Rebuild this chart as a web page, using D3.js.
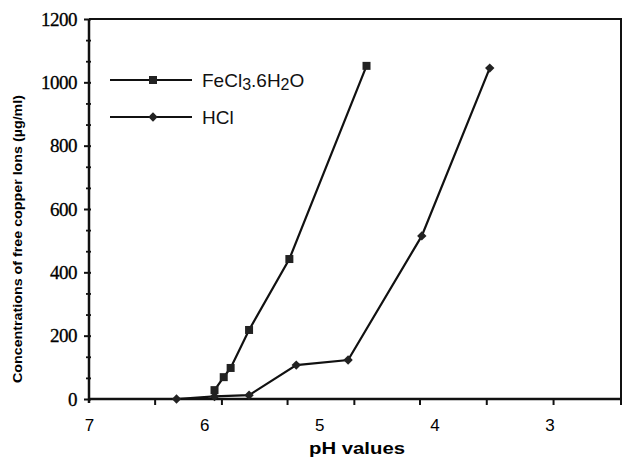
<!DOCTYPE html>
<html>
<head>
<meta charset="utf-8">
<script src="https://cdn.jsdelivr.net/npm/d3@7"></script>
<style>
  body { margin: 0; background: #fff; }
  svg { display: block; }
</style>
</head>
<body>
<div id="chart"></div>
<script>
// data
const fePH   = [5.91, 5.83, 5.77, 5.61, 5.26, 4.59];
const feConc = [28, 69, 98, 218, 442, 1052];
const hclPH   = [6.24, 5.91, 5.61, 5.20, 4.75, 4.11, 3.52];
const hclConc = [0, 8, 12, 107, 123, 515, 1045];

const xLabels = [7, 6, 5, 4, 3];
const xMinorTicks = [6.43, 5.85, 5.28, 4.70, 4.13, 3.55, 2.97];
const yLabels = [0, 200, 400, 600, 800, 1000, 1200];
const yMinorTicks = d3.range(0, 1200, 200).flatMap(v => [v + 200 / 3, v + 400 / 3]);

const width = 622, height = 459;
const margin = { top: 19, right: 1, bottom: 60, left: 89 };

const svg = d3.select("#chart")
    .append("svg")
    .attr("width", width)
    .attr("height", height);

const x = d3.scaleLinear()
    .domain([7, 2.38])
    .range([margin.left, width - margin.right]);

const y = d3.scaleLinear()
    .domain([0, 1200])
    .range([height - margin.bottom, margin.top]);

const x0 = margin.left, x1 = width - margin.right;
const y0 = height - margin.bottom, y1 = margin.top;

// frame: top and right border
svg.append("path")
    .attr("d", `M${x0},${y1}H${x1}V${y0 + 6}`)
    .attr("fill", "none")
    .attr("stroke", "#111")
    .attr("stroke-width", 2);

// x axis: unticked labels + minor ticks
const xAxisLabels = svg.append("g")
    .attr("transform", `translate(0,${y0})`)
    .call(d3.axisBottom(x).tickValues(xLabels).tickSize(0).tickPadding(20).tickFormat(d3.format("d")));
xAxisLabels.select(".domain").remove();
xAxisLabels.selectAll("text")
    .attr("font-family", "Liberation Sans, Arial, sans-serif")
    .attr("font-size", 17)
    .attr("fill", "#000");

const xAxisTicks = svg.append("g")
    .attr("transform", `translate(0,${y0})`)
    .call(d3.axisBottom(x).tickValues(xMinorTicks).tickSize(6).tickFormat(""));
xAxisTicks.select(".domain").remove();
xAxisTicks.selectAll("line").attr("stroke", "#111").attr("stroke-width", 2);

// y axis
const yAxis = svg.append("g")
    .attr("transform", `translate(${x0},0)`)
    .call(d3.axisLeft(y).tickValues(yLabels).tickSize(5).tickPadding(7).tickFormat(d3.format("d")));
yAxis.select(".domain").remove();
yAxis.selectAll("line").attr("stroke", "#111").attr("stroke-width", 2).attr("x2", -5).attr("x1", 2);
yAxis.selectAll("text")
    .attr("font-family", "Liberation Serif, Times New Roman, serif")
    .attr("font-size", 19)
    .attr("letter-spacing", -0.5)
    .attr("fill", "#000")
    .attr("stroke", "#000")
    .attr("stroke-width", 0.3);

const yMinor = svg.append("g")
    .attr("transform", `translate(${x0},0)`)
    .call(d3.axisLeft(y).tickValues(yMinorTicks).tickSize(3).tickFormat(""));
yMinor.select(".domain").remove();
yMinor.selectAll("line").attr("stroke", "#111").attr("stroke-width", 1.8).attr("x1", 2);

// axis lines
svg.append("line")
    .attr("x1", x0).attr("x2", x1).attr("y1", y0).attr("y2", y0)
    .attr("stroke", "#111").attr("stroke-width", 2.5);
svg.append("line")
    .attr("x1", x0).attr("x2", x0).attr("y1", y1).attr("y2", y0 + 4)
    .attr("stroke", "#111").attr("stroke-width", 2.5);

// axis titles
svg.append("text")
    .attr("x", 309).attr("y", 454)
    .attr("font-family", "Liberation Sans, Arial, sans-serif")
    .attr("font-weight", "bold")
    .attr("font-size", 17)
    .attr("textLength", 96)
    .attr("lengthAdjust", "spacingAndGlyphs")
    .attr("fill", "#000")
    .text("pH values");

svg.append("text")
    .attr("transform", "translate(22,239) rotate(-90)")
    .attr("text-anchor", "middle")
    .attr("font-family", "Liberation Sans, Arial, sans-serif")
    .attr("font-weight", "bold")
    .attr("font-size", 13)
    .attr("textLength", 288)
    .attr("lengthAdjust", "spacingAndGlyphs")
    .attr("fill", "#000")
    .text("Concentrations of free copper Ions (\u00b5g/ml)");

// series
const line = d3.line().x(d => x(d[0])).y(d => y(d[1]));
const feData = fePH.map((p, i) => [p, feConc[i]]);
const hclData = hclPH.map((p, i) => [p, hclConc[i]]);

const square = { d: d3.symbol().type(d3.symbolSquare).size(64)(), rot: 0 };
const diamond = { d: d3.symbol().type(d3.symbolSquare).size(44)(), rot: 45 };

[[hclData, diamond], [feData, square]].forEach(([data, sym]) => {
    svg.append("path")
        .datum(data)
        .attr("d", line)
        .attr("fill", "none")
        .attr("stroke", "#111")
        .attr("stroke-width", 2.2);
    svg.selectAll(null)
        .data(data)
        .enter()
        .append("path")
        .attr("d", sym.d)
        .attr("transform", d => `translate(${x(d[0])},${y(d[1])}) rotate(${sym.rot})`)
        .attr("fill", "#222");
});

// legend
const legend = [
    { label: ["FeCl", "3", ".6H", "2", "O"], sym: square, y: 80 },
    { label: ["HCl"], sym: diamond, y: 117 }
];
legend.forEach(l => {
    svg.append("line")
        .attr("x1", 110).attr("x2", 192).attr("y1", l.y).attr("y2", l.y)
        .attr("stroke", "#111").attr("stroke-width", 2);
    svg.append("path")
        .attr("d", l.sym.d)
        .attr("transform", `translate(153,${l.y}) rotate(${l.sym.rot})`)
        .attr("fill", "#222");
    const t = svg.append("text")
        .attr("x", 202).attr("y", l.y + 7)
        .attr("font-family", "Liberation Sans, Arial, sans-serif")
        .attr("font-size", 19)
        .attr("fill", "#111");
    l.label.forEach((s, i) => {
        const sub = i % 2 === 1;
        t.append("tspan")
            .attr("dy", sub ? 3 : (i > 0 ? -3 : 0))
            .attr("font-size", sub ? 16 : 19)
            .text(s);
    });
});
</script>
</body>
</html>
